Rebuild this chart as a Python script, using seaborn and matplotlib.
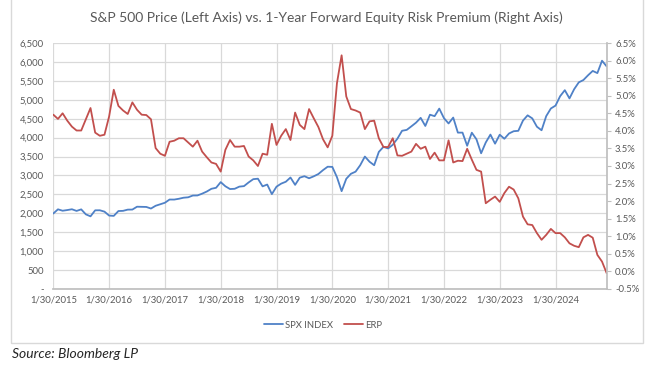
import matplotlib
matplotlib.use("Agg")
import matplotlib.pyplot as plt
import seaborn as sns
import pandas as pd
from matplotlib.lines import Line2D
from matplotlib.patches import Rectangle
from matplotlib.ticker import FuncFormatter

# monthly S&P 500 close, Jan 2015 - Dec 2024
spx = [
    1995, 2105, 2068, 2086, 2107, 2063, 2104, 1972, 1920, 2079, 2080, 2044,
    1940, 1932, 2060, 2065, 2097, 2099, 2174, 2171, 2168, 2126, 2199, 2239,
    2279, 2364, 2363, 2384, 2412, 2423, 2470, 2472, 2519, 2575, 2648, 2674,
    2824, 2714, 2641, 2648, 2705, 2718, 2816, 2902, 2914, 2712, 2760, 2507,
    2704, 2784, 2834, 2946, 2752, 2942, 2980, 2926, 2977, 3038, 3141, 3231,
    3226, 2954, 2585, 2912, 3044, 3100, 3271, 3500, 3363, 3270, 3622, 3756,
    3714, 3811, 3973, 4181, 4204, 4298, 4395, 4523, 4308, 4605, 4567, 4766,
    4516, 4374, 4530, 4132, 4132, 3785, 4130, 3955, 3586, 3872, 4080, 3840,
    4077, 3970, 4109, 4169, 4180, 4450, 4589, 4508, 4288, 4194, 4568, 4770,
    4846, 5096, 5254, 5036, 5278, 5460, 5522, 5648, 5762, 5705, 6032, 5882,
]

# 1-year forward equity risk premium (%)
erp = [
    4.46, 4.34, 4.50, 4.29, 4.12, 4.01, 4.01, 4.33, 4.65, 3.95, 3.86, 3.89,
    4.41, 5.17, 4.71, 4.58, 4.48, 4.81, 4.60, 4.46, 4.45, 4.33, 3.51, 3.35,
    3.29, 3.69, 3.72, 3.79, 3.79, 3.67, 3.55, 3.72, 3.41, 3.25, 3.10, 3.06,
    2.84, 3.46, 3.74, 3.55, 3.55, 3.57, 3.27, 3.16, 3.00, 3.35, 3.32, 4.20,
    3.60, 3.86, 4.05, 3.74, 4.52, 4.17, 4.05, 4.62, 4.36, 4.11, 3.76, 3.53,
    3.86, 5.36, 6.15, 4.98, 4.62, 4.58, 4.52, 4.05, 4.27, 4.29, 3.79, 3.54,
    3.54, 3.79, 3.30, 3.29, 3.35, 3.41, 3.63, 3.49, 3.55, 3.20, 3.38, 3.16,
    3.16, 3.73, 3.10, 3.15, 3.14, 3.49, 3.18, 2.89, 2.84, 1.94, 2.04, 2.13,
    1.98, 2.23, 2.41, 2.33, 2.08, 1.56, 1.34, 1.32, 1.09, 0.90, 1.04, 1.21,
    1.09, 1.09, 0.97, 0.80, 0.73, 0.69, 0.97, 1.04, 0.96, 0.47, 0.28, -0.05,
]

year_labels = ["1/30/2015", "1/30/2016", "1/30/2017", "1/30/2018", "1/30/2019",
               "1/30/2020", "1/30/2021", "1/30/2022", "1/30/2023", "1/30/2024"]

df = pd.DataFrame({"month": range(len(spx)), "SPX INDEX": spx, "ERP": erp})

blue = "#4F81C7"
red = "#C24F4D"
grid = "#D9D9D9"
label = "#595959"

sns.set_theme(style="white")
plt.rcParams["font.family"] = ["Lato", "DejaVu Sans"]

fig = plt.figure(figsize=(6.51, 3.66), dpi=100)
ax = fig.add_axes([0.0819, 0.2104, 0.850, 0.6721])
ax2 = ax.twinx()

sns.lineplot(data=df, x="month", y="SPX INDEX", ax=ax, color=blue, linewidth=1.3)
sns.lineplot(data=df, x="month", y="ERP", ax=ax2, color=red, linewidth=1.3)

ax.set_xlim(0, len(spx) - 1)
ax.set_ylim(0, 6500)
ax2.set_ylim(-0.5, 6.5)

ax.set_xticks(range(0, len(spx), 12))
ax.set_xticklabels(year_labels)
ax.set_yticks(range(0, 6501, 500))
ax.yaxis.set_major_formatter(FuncFormatter(lambda v, p: "-" if v == 0 else f"{v:,.0f}"))
ax2.set_yticks([x / 2 for x in range(-1, 14)])
ax2.yaxis.set_major_formatter(FuncFormatter(lambda v, p: f"{v:.1f}%"))

ax.grid(True, color=grid, linewidth=0.9)
ax.set_axisbelow(True)
ax.set_xlabel("")
ax.set_ylabel("")
ax2.set_ylabel("")

for s in ["top", "right", "left"]:
    ax.spines[s].set_visible(False)
ax.spines["bottom"].set_color("#BFBFBF")
for s in ["top", "left", "bottom"]:
    ax2.spines[s].set_visible(False)
ax2.spines["right"].set_color("#BFBFBF")

ax.tick_params(axis="x", length=0, pad=5, labelsize=6.8, labelcolor=label)
ax.tick_params(axis="y", length=0, pad=7, labelsize=6.8, labelcolor=label)
ax2.tick_params(axis="y", length=3, width=0.8, color="#BFBFBF", pad=3,
                labelsize=6.8, labelcolor=label)

fig.text(0.502, 0.951,
         "S&P 500 Price (Left Axis) vs. 1-Year Forward Equity Risk Premium (Right Axis)",
         ha="center", va="center", fontsize=10, color=label)

handles = [Line2D([], [], color=blue, linewidth=1.3),
           Line2D([], [], color=red, linewidth=1.3)]
fig.legend(handles, ["SPX INDEX", "ERP"], loc="center",
           bbox_to_anchor=(323 / 651, 1 - 325 / 366), ncol=2, frameon=False,
           fontsize=6.8, handlelength=2.0, handletextpad=0.2, columnspacing=1.2,
           labelcolor=label)

fig.add_artist(Rectangle((11 / 651, 1 - 343 / 366), 632 / 651, 0.2 + 343 / 366,
                         transform=fig.transFigure, fill=False,
                         edgecolor=grid, linewidth=1.0))

fig.text(12 / 651, 1 - 354 / 366, "Source: Bloomberg LP", style="italic",
         fontsize=10, color="#262626", va="center", ha="left")

fig.savefig("out.png", dpi=100)
